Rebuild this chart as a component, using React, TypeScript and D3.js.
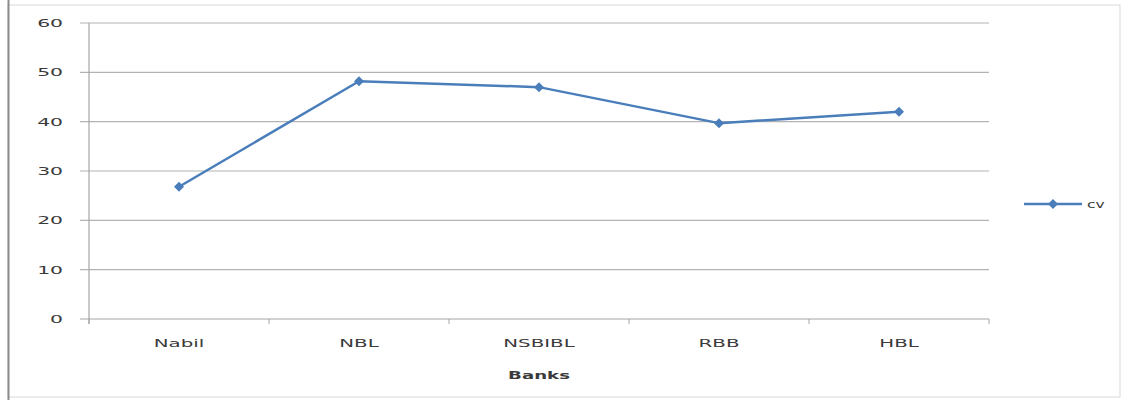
import React from "react";
import * as d3 from "d3";

const categories = ["Nabil", "NBL", "NSBIBL", "RBB", "HBL"];
const cvValues = [26.8, 48.2, 47.0, 39.7, 42.0];
const yTicks = [0, 10, 20, 30, 40, 50, 60];
const seriesName = "cv";
const xTitle = "Banks";

const font = "'DejaVu Sans', Verdana, sans-serif";

function WideText(props: { x: number; y: number; sx: number; anchor?: string; bold?: boolean; dy?: string; children: any }) {
  return (
    <text
      transform={`translate(${props.x},${props.y}) scale(${props.sx},1)`}
      dy={props.dy}
      textAnchor={props.anchor || "start"}
      fontFamily={font}
      fontSize={11}
      fontWeight={props.bold ? "bold" : "normal"}
      fill="#3a3a3a"
    >
      {props.children}
    </text>
  );
}

export default function App() {
  const W = 1128, H = 400;
  const left = 89, right = 989, top = 23, bottom = 319;
  const x = d3.scaleBand<string>().domain(categories).range([left, right]);
  const y = d3.scaleLinear().domain([0, 60]).range([bottom, top]);
  const line = d3.line<number>()
    .x((_, i) => (x(categories[i]) as number) + x.bandwidth() / 2)
    .y((d) => y(d));
  const color = "#4A7EBB";
  const diamond = (cx: number, cy: number, r = 5) =>
    `M${cx},${cy - r}L${cx + r},${cy}L${cx},${cy + r}L${cx - r},${cy}Z`;
  const boundaries = [...categories.map((c) => x(c) as number), right];
  return (
    <svg width={W} height={H} style={{ position: "absolute", left: 0, top: 0 }}>
      <rect x={0} y={0} width={W} height={H} fill="#fff" />
      <rect x={8} y={5} width={1112} height={392} fill="none" stroke="#d9d9d9" strokeWidth={1} />
      <line x1={8.5} y1={0} x2={8.5} y2={H} stroke="#8c8c8c" strokeWidth={2} />
      {yTicks.map((t) => (
        <g key={t}>
          <line x1={80} x2={right} y1={y(t)} y2={y(t)} stroke={t === 0 ? "#a6a6a6" : "#b3b3b3"} strokeWidth={1.2} />
          <WideText x={63} y={y(t)} dy="0.35em" sx={1.85} anchor="end">{t}</WideText>
        </g>
      ))}
      <line x1={left} x2={left} y1={top} y2={bottom + 5} stroke="#a6a6a6" strokeWidth={1.2} />
      {boundaries.map((b, i) => (
        <line key={i} x1={b} x2={b} y1={bottom} y2={bottom + 5} stroke="#a6a6a6" strokeWidth={1} />
      ))}
      {categories.map((c) => (
        <WideText key={c} x={(x(c) as number) + x.bandwidth() / 2} y={347} sx={1.8} anchor="middle">{c}</WideText>
      ))}
      <WideText x={539} y={379} sx={1.65} anchor="middle" bold>{xTitle}</WideText>
      <path d={line(cvValues) || ""} fill="none" stroke={color} strokeWidth={2.5} strokeLinejoin="round" />
      {cvValues.map((v, i) => (
        <path key={i} d={diamond((x(categories[i]) as number) + x.bandwidth() / 2, y(v))} fill={color} />
      ))}
      <line x1={1024} x2={1082} y1={204} y2={204} stroke={color} strokeWidth={2.5} />
      <path d={diamond(1053, 204)} fill={color} />
      <WideText x={1087} y={204} dy="0.35em" sx={1.4}>{seriesName}</WideText>
    </svg>
  );
}
